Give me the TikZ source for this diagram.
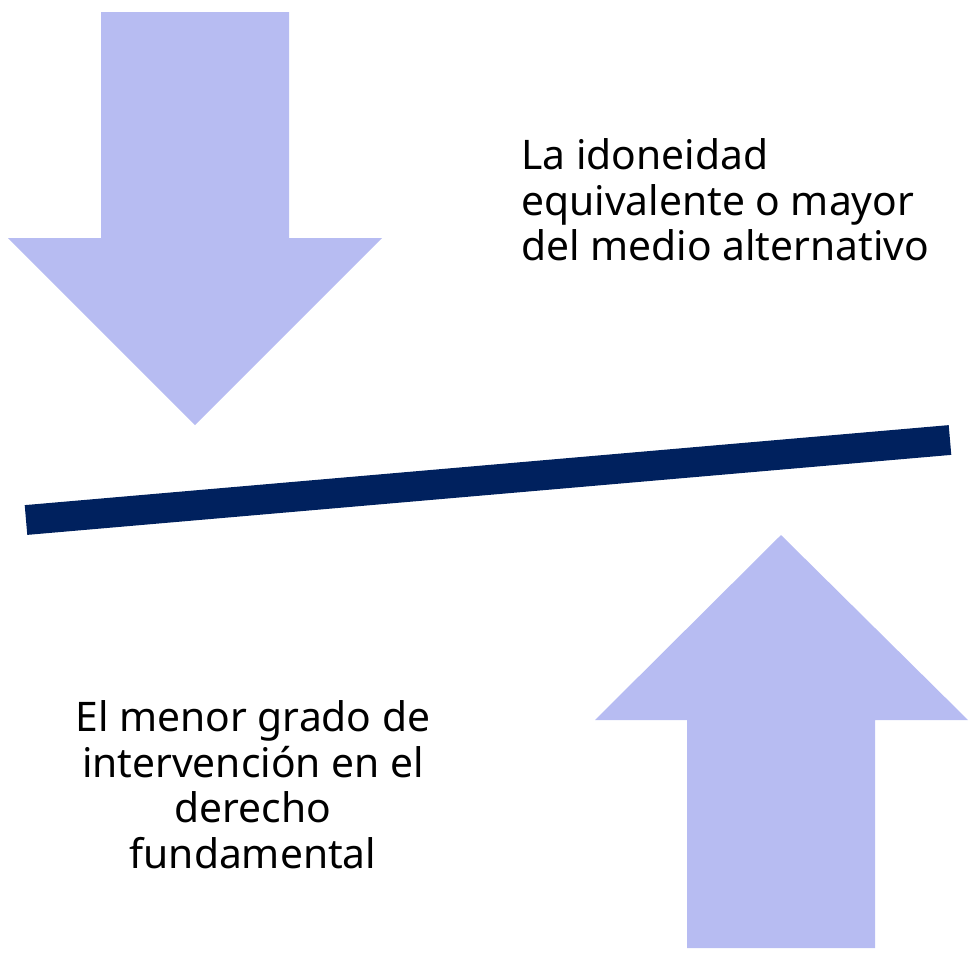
\documentclass[tikz,border=0pt]{standalone}
\usepackage{fontspec}
\setmainfont{Noto Sans}
\usepackage{xcolor}
\usepackage{tikz}
\usetikzlibrary{positioning, calc}
\definecolor{mylilac}{RGB}{183,188,242}
\definecolor{mynavy}{RGB}{0,33,94}
\tikzset{
  bigarrow/.style={fill=mylilac, draw=none},
  beam/.style={draw=mynavy, line width=17pt},
  label/.style={font=\fontsize{23.2}{26}\selectfont, text=black, inner sep=0pt}
}

\begin{document}
\begin{tikzpicture}[x=0.02cm, y=-0.02cm]
  \useasboundingbox (0,0) rectangle (975,958);

  % Downward arrow
  \path[bigarrow] (101,12) -- (289,12) -- (289,238) -- (382,238) -- (195,425)
    -- (8,238) -- (101,238) -- cycle;

  % Upward arrow
  \path[bigarrow] (687,948) -- (875,948) -- (875,720) -- (968,720) -- (781,535)
    -- (595,720) -- (687,720) -- cycle;

  % Beam
  \coordinate (bl) at (26,520);
  \coordinate (br) at (950,440);
  \draw[beam] (bl) -- (br);

  % Labels
  \node[label, anchor=north west, align=left] (top) at (521,138)
    {La idoneidad\\equivalente o mayor\\del medio alternativo};
  \node[label, anchor=north, align=center] (bottom) at (253,700)
    {El menor grado de\\intervención en el\\derecho\\fundamental};
\end{tikzpicture}
\end{document}
